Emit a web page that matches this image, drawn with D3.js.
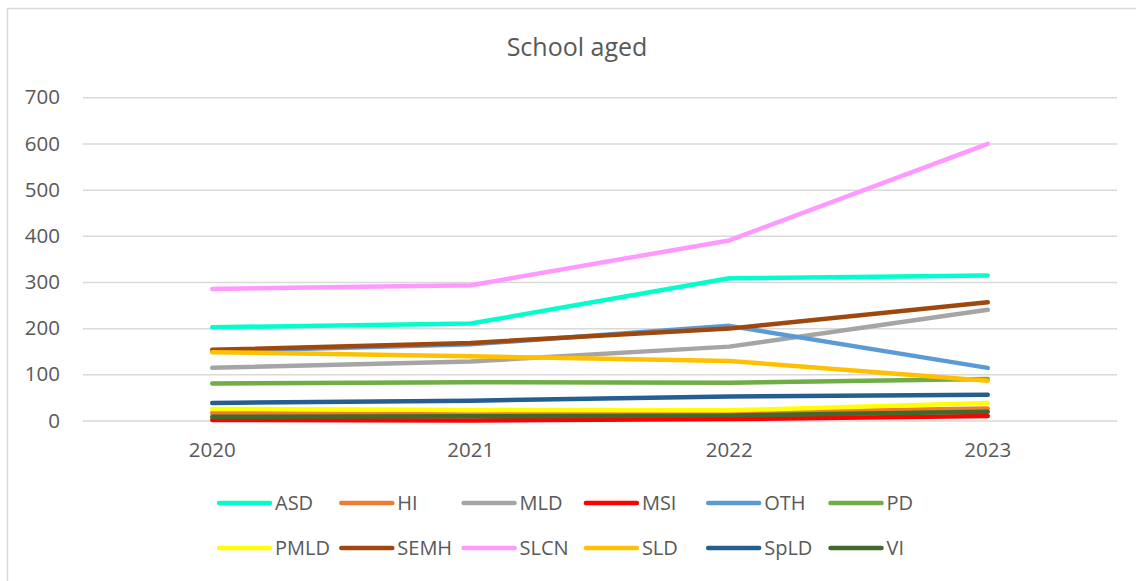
<!DOCTYPE html>
<html>
<head>
<meta charset="utf-8">
<script src="https://cdn.jsdelivr.net/npm/d3@7"></script>
<style>
  body { margin: 0; background: #fff; }
  svg text { font-family: "Open Sans", "Liberation Sans", sans-serif; fill: #595959; }
</style>
</head>
<body>
<div class="chart"></div>
<script>
const years = ['2020', '2021', '2022', '2023'];
const yTicks = [0, 100, 200, 300, 400, 500, 600, 700];
const seriesNames = ['ASD', 'HI', 'MLD', 'MSI', 'OTH', 'PD', 'PMLD', 'SEMH', 'SLCN', 'SLD', 'SpLD', 'VI'];
const seriesColors = ['#00ffcc', '#ed7d31', '#a5a5a5', '#ff0000', '#5b9bd5', '#70ad47', '#ffff00', '#9e480e', '#ff99ff', '#ffc000', '#255e91', '#43682b'];
const asd = [202, 210, 308, 314];
const hi = [16, 13, 17, 26];
const mld = [114, 128, 160, 240];
const msi = [1, 0, 3, 10];
const oth = [150, 165, 205, 114];
const pd = [80, 83, 82, 90];
const pmld = [25, 23, 22, 38];
const semh = [153, 168, 199, 256];
const slcn = [285, 293, 390, 599];
const sld = [148, 139, 129, 86];
const spld = [38, 43, 52, 56];
const vi = [8, 9, 11, 19];
const seriesValues = [asd, hi, mld, msi, oth, pd, pmld, semh, slcn, sld, spld, vi];

function displayChart() {
  const w = 1136;
  const h = 581;
  const plot = { left: 83, right: 1117, top: 97.3, bottom: 420.5 };

  const svg = d3.select('.chart')
    .append('svg')
    .attr('width', w)
    .attr('height', h);

  // chart border
  svg.append('rect')
    .attr('x', 7.5)
    .attr('y', 8.5)
    .attr('width', 1140)
    .attr('height', 600)
    .attr('fill', 'none')
    .attr('stroke', '#d9d9d9')
    .attr('stroke-width', 1.5);

  svg.append('text')
    .attr('x', 577)
    .attr('y', 56)
    .attr('text-anchor', 'middle')
    .style('font-size', '25px')
    .text('School aged');

  const xScale = d3.scaleBand()
    .domain(years)
    .range([plot.left, plot.right]);
  const yScale = d3.scaleLinear()
    .domain([0, 700])
    .range([plot.bottom, plot.top]);

  // gridlines + y labels
  const yAxis = svg.append('g')
    .attr('class', 'y-axis')
    .attr('transform', `translate(${plot.left}, 0)`)
    .call(d3.axisLeft(yScale).tickValues(yTicks).tickSize(-(plot.right - plot.left)).tickPadding(23));
  yAxis.select('.domain').remove();
  yAxis.selectAll('line').attr('stroke', '#d9d9d9').attr('stroke-width', 1.5);
  yAxis.selectAll('text').style('font-size', '20.5px').attr('fill', '#595959');

  const xAxis = svg.append('g')
    .attr('class', 'x-axis')
    .attr('transform', `translate(0, ${plot.bottom})`)
    .call(d3.axisBottom(xScale).tickSize(0).tickPadding(22));
  xAxis.select('.domain').remove();
  xAxis.selectAll('text').style('font-size', '20.5px').attr('fill', '#595959');

  const line = d3.line()
    .x((d, i) => xScale(years[i]) + xScale.bandwidth() / 2)
    .y(d => yScale(d));

  svg.selectAll('.series')
    .data(seriesValues)
    .enter()
    .append('path')
    .attr('class', 'series')
    .attr('d', d => line(d))
    .attr('fill', 'none')
    .attr('stroke', (d, i) => seriesColors[i])
    .attr('stroke-width', 4.5)
    .attr('stroke-linecap', 'round')
    .attr('stroke-linejoin', 'round');

  // legend, 6 per row
  const legend = svg.append('g').attr('class', 'legend');
  const item = legend.selectAll('g')
    .data(seriesNames)
    .enter()
    .append('g')
    .attr('transform', (d, i) => `translate(${219 + (i % 6) * 122.3}, ${i < 6 ? 503 : 548})`);
  item.append('line')
    .attr('x1', 0)
    .attr('x2', 51)
    .attr('stroke', (d, i) => seriesColors[i])
    .attr('stroke-width', 4.5)
    .attr('stroke-linecap', 'round');
  item.append('text')
    .attr('x', 56)
    .attr('dy', '0.35em')
    .style('font-size', '20px')
    .text(d => d);
}

displayChart();
</script>
</body>
</html>
